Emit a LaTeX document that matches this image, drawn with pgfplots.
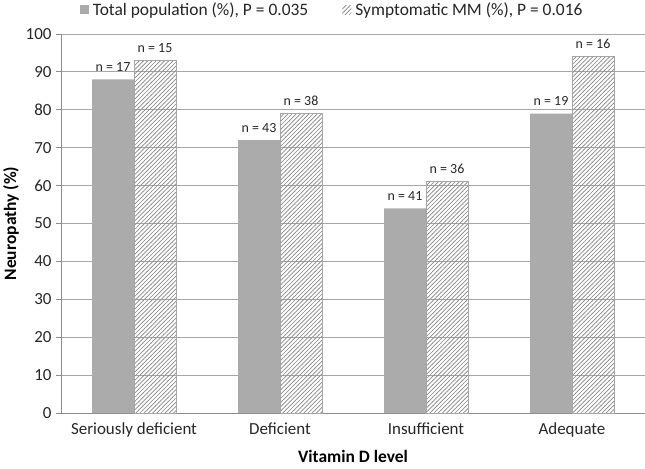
\documentclass[border=0pt]{standalone}
\usepackage{pgfplots}
\pgfplotsset{compat=1.18}
\usepackage{fontspec}
\setmainfont{Carlito}
\usetikzlibrary{patterns}
\definecolor{barg}{HTML}{ABABAB}
\definecolor{axg}{HTML}{8C8C8C}
\definecolor{gridg}{HTML}{A6A6A6}
\definecolor{hatchg}{HTML}{8A8A8A}
\pgfdeclarepatternformonly{myhatch}{\pgfqpoint{-1bp}{-1bp}}{\pgfqpoint{5bp}{5bp}}{\pgfqpoint{4.2bp}{4.2bp}}{%
  \pgfsetlinewidth{0.7bp}%
  \pgfpathmoveto{\pgfqpoint{-0.2bp}{-0.2bp}}%
  \pgfpathlineto{\pgfqpoint{4.4bp}{4.4bp}}%
  \pgfusepath{stroke}}
\begin{document}
\begin{tikzpicture}
\begin{axis}[
  scale only axis,
  width=584bp, height=379bp,
  ymin=0, ymax=100,
  ytick={0,10,...,100},
  xmin=-0.5, xmax=3.5,
  xtick={0,1,2,3},
  xticklabels={Seriously deficient, Deficient, Insufficient, Adequate},
  major x tick style={draw=none},
  extra x ticks={-0.5,0.5,1.5,2.5,3.5},
  extra x tick labels={},
  extra x tick style={major tick length=5bp, tick style={draw=axg, line width=0.8pt}, grid=none},
  tick align=outside,
  major tick length=5bp,
  ytick style={draw=axg, line width=0.8pt},
  axis x line*=bottom,
  axis y line*=left,
  axis line style={draw=axg, line width=1pt, -},
  ymajorgrids,
  grid style={draw=gridg, line width=0.8pt},
  ybar, bar width=42bp,
  ticklabel style={font=\fontsize{17}{20}\selectfont, text=black!85},
  yticklabel style={xshift=-1bp},
  xticklabel style={yshift=-1bp},
  /pgf/number format/assume math mode=true,
  xlabel={\textbf{Vitamin D level}},
  ylabel={\textbf{Neuropathy (\%)}},
  label style={font=\fontsize{17.5}{20}\selectfont},
  xlabel style={yshift=4bp},
  ylabel style={yshift=0bp},
  nodes near coords={n = \pgfplotspointmeta},
  point meta=explicit symbolic,
  nodes near coords style={font=\fontsize{14}{16}\selectfont, text=black!85, inner sep=0bp, yshift=7.5bp},
  legend columns=2,
  legend style={draw=none, at={(0.466,1.063)}, anchor=center, font=\fontsize{17.5}{20}\selectfont, text=black!85,
     inner sep=0pt, nodes={inner xsep=4bp},
     /tikz/every even column/.append style={column sep=30bp}},
  legend image code/.code={\draw[#1, draw=none] (0bp,-4bp) rectangle (9bp,5bp);},
]
\addplot[fill=barg, draw=none, bar shift=-21bp] coordinates {(0,88) [17] (1,72) [43] (2,54) [41] (3,79) [19]};
\addlegendentry{Total population (\%), P = 0.035}
\addplot[pattern=myhatch, pattern color=hatchg, draw=gridg, line width=0.8pt, bar shift=21bp] coordinates {(0,93) [15] (1,79) [38] (2,61) [36] (3,94) [16]};
\addlegendentry{Symptomatic MM (\%), P = 0.016}
\end{axis}
\pgfresetboundingbox
\path[use as bounding box] (-61bp,-56bp) rectangle (584bp,413bp);
\end{tikzpicture}
\end{document}
